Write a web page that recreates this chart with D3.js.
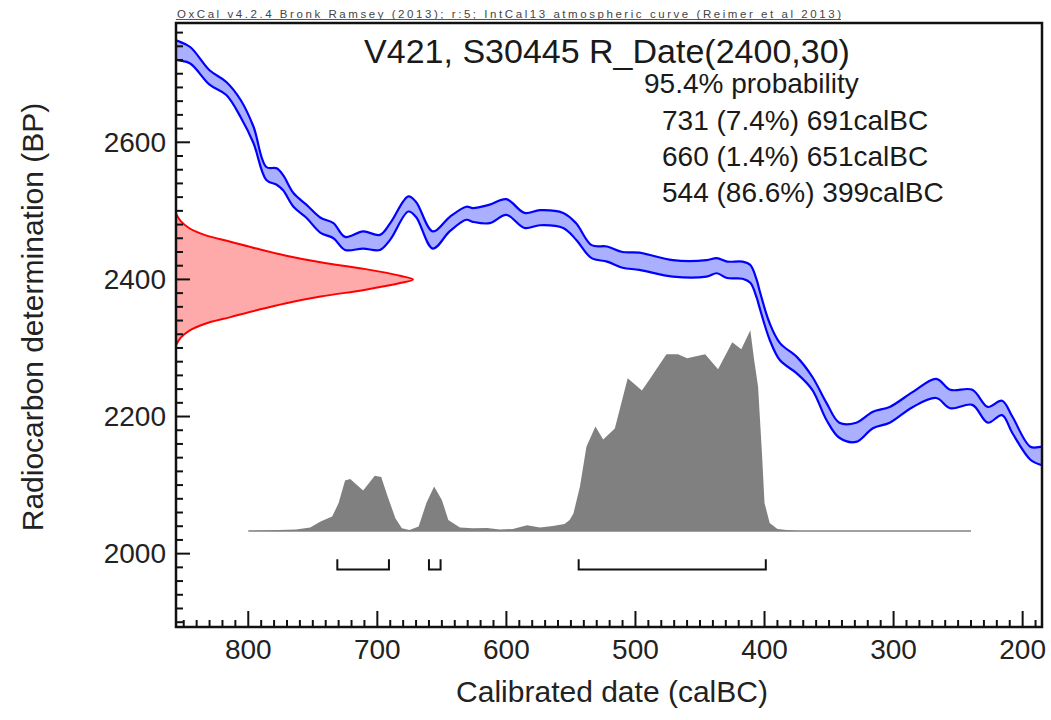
<!DOCTYPE html>
<html>
<head>
<meta charset="utf-8">
<title>V421, S30445 R_Date(2400,30)</title>
<script src="https://cdn.jsdelivr.net/npm/d3@7"></script>
<style>
  html, body { margin: 0; padding: 0; background: #fff; }
  svg { display: block; font-family: "Liberation Sans", Arial, Helvetica, sans-serif; }
  .tick-label { font-size: 28px; fill: #222; }
  .axis-title { font-size: 30px; fill: #222; }
</style>
</head>
<body>
<div id="chart"></div>
<script>
// IntCal13 band (calBC, upper BP, lower BP)
const curveCal = [860, 855, 845, 830, 817, 806, 796, 786, 778, 773, 765, 755, 744, 734, 725, 711, 698, 690, 676, 670,
  657, 644, 631, 626, 613, 600, 586, 574, 556, 546, 534, 522, 510, 497, 471, 445, 437, 429, 417, 411,
  406, 404, 396, 388, 375, 363, 352, 342, 329, 316, 303, 285, 267, 256, 239, 227, 216, 208, 194, 185, 180];
const curveHi = [2752, 2748, 2739, 2705, 2688, 2662, 2623, 2564, 2562, 2552, 2526, 2509, 2490, 2482, 2462, 2470, 2465, 2482, 2521, 2513,
  2470, 2491, 2506, 2504, 2509, 2517, 2497, 2501, 2497, 2482, 2450, 2448, 2440, 2439, 2428, 2428, 2431, 2426, 2426, 2421,
  2399, 2385, 2336, 2307, 2287, 2258, 2220, 2191, 2191, 2207, 2214, 2236, 2255, 2239, 2239, 2214, 2223, 2200, 2156, 2156, 2156];
const curveLo = [2724, 2720, 2715, 2684, 2669, 2637, 2599, 2545, 2538, 2530, 2506, 2490, 2468, 2460, 2443, 2445, 2443, 2458, 2499, 2491,
  2445, 2470, 2487, 2484, 2482, 2494, 2475, 2479, 2475, 2458, 2431, 2426, 2417, 2414, 2404, 2404, 2409, 2402, 2401, 2395,
  2373, 2360, 2312, 2282, 2263, 2239, 2195, 2169, 2163, 2183, 2191, 2214, 2227, 2212, 2217, 2191, 2202, 2176, 2137, 2129, 2127];

// R_Date(2400,30) likelihood on the radiocarbon axis (BP, relative density)
const likeBP = [2496, 2485, 2475, 2465, 2455, 2445, 2435, 2425, 2415, 2405, 2400, 2395, 2385, 2375, 2365, 2355, 2345, 2335, 2325, 2315, 2304];
const likeDens = [0, 0.02, 0.055, 0.12, 0.23, 0.34, 0.46, 0.61, 0.80, 0.95, 1.0, 0.95, 0.80, 0.61, 0.46, 0.34, 0.23, 0.12, 0.055, 0.02, 0];

// calibrated distribution (calBC, relative probability)
const postCal = [800, 763, 752, 744, 735, 730, 725, 721, 711, 702, 697, 692, 686, 681, 675, 668, 662, 656, 650, 645,
  636, 626, 615, 605, 595, 584, 574, 564, 555, 551, 548, 543, 538, 531, 525, 516, 506, 495, 489, 476,
  467, 460, 446, 436, 425, 418, 411, 408, 405, 402, 400, 396, 390, 383, 373, 240];
const postProb = [0, 0.008, 0.018, 0.047, 0.072, 0.139, 0.252, 0.259, 0.202, 0.275, 0.269, 0.172, 0.064, 0.014, 0.005, 0.022, 0.139, 0.222, 0.155, 0.055,
  0.018, 0.014, 0.015, 0.008, 0.01, 0.029, 0.018, 0.025, 0.035, 0.055, 0.089, 0.222, 0.42, 0.52, 0.455, 0.51, 0.76, 0.70, 0.755, 0.88,
  0.88, 0.86, 0.88, 0.805, 0.94, 0.905, 1.0, 0.85, 0.72, 0.39, 0.14, 0.04, 0.01, 0.005, 0, 0];

// 95.4% ranges
const rangeFrom = [731, 660, 544];
const rangeTo = [691, 651, 399];
const rangeText = ["731 (7.4%) 691calBC", "660 (1.4%) 651calBC", "544 (86.6%) 399calBC"];

const xTicks = [800, 700, 600, 500, 400, 300, 200];
const yTicks = [2000, 2200, 2400, 2600];

const headerText = "OxCal v4.2.4 Bronk Ramsey (2013); r:5; IntCal13 atmospheric curve (Reimer et al 2013)";
const titleText = "V421, S30445 R_Date(2400,30)";
const probText = "95.4% probability";

// ---------- layout ----------
const W = 1051, H = 720;
const P = { l: 176, r: 1042, t: 23, b: 627 };

const svg = d3.select("#chart").append("svg").attr("width", W).attr("height", H);

const x = d3.scaleLinear().domain([856, 185]).range([P.l, P.r]);
const y = d3.scaleLinear().domain([1893, 2774]).range([P.b, P.t]);
const xDens = d3.scaleLinear().domain([0, 1]).range([P.l, P.l + 237]);   // likelihood width
const yPost = d3.scaleLinear().domain([0, 1]).range([y(2033), y(2326)]); // posterior height

svg.append("clipPath").attr("id", "plotclip").append("rect")
  .attr("x", P.l).attr("y", P.t).attr("width", P.r - P.l).attr("height", P.b - P.t);
const g = svg.append("g").attr("clip-path", "url(#plotclip)");

// ---------- calibration curve ----------
const band = curveCal.map((c, i) => ({ c, hi: curveHi[i], lo: curveLo[i] }));
g.append("path").datum(band)
  .attr("d", d3.area().x(d => x(d.c)).y0(d => y(d.lo)).y1(d => y(d.hi)).curve(d3.curveCatmullRom))
  .attr("fill", "#aab0ff");
["hi", "lo"].forEach(k => {
  g.append("path").datum(band)
    .attr("d", d3.line().x(d => x(d.c)).y(d => y(d[k])).curve(d3.curveCatmullRom))
    .attr("fill", "none").attr("stroke", "#0000ff").attr("stroke-width", 2.2).attr("stroke-linejoin", "round");
});

// ---------- radiocarbon likelihood ----------
const like = likeBP.map((b, i) => ({ b, d: likeDens[i] }));
g.append("path").datum(like)
  .attr("d", d3.area().y(d => y(d.b)).x0(P.l).x1(d => xDens(d.d)).curve(d3.curveCatmullRom))
  .attr("fill", "#ffaaaa");
g.append("path").datum(like)
  .attr("d", d3.line().y(d => y(d.b)).x(d => xDens(d.d)).curve(d3.curveCatmullRom))
  .attr("fill", "none").attr("stroke", "#ff0000").attr("stroke-width", 2);

// ---------- calibrated distribution ----------
const post = postCal.map((c, i) => ({ c, p: postProb[i] }));
g.append("path").datum(post)
  .attr("d", d3.area().x(d => x(d.c)).y0(yPost(0)).y1(d => yPost(d.p)))
  .attr("fill", "#808080");
g.append("line")
  .attr("x1", x(d3.max(postCal))).attr("x2", x(d3.min(postCal)))
  .attr("y1", yPost(0)).attr("y2", yPost(0))
  .attr("stroke", "#808080").attr("stroke-width", 1.6);

// ---------- range brackets ----------
const bracketLo = y(1977), bracketHi = y(1992);
rangeFrom.forEach((f, i) => {
  const x0 = x(f), x1 = x(rangeTo[i]);
  g.append("path")
    .attr("d", `M${x0},${bracketHi}V${bracketLo}H${x1}V${bracketHi}`)
    .attr("fill", "none").attr("stroke", "#111").attr("stroke-width", 2);
});

// ---------- frame and ticks ----------
const ax = svg.append("g").attr("stroke", "#111").attr("stroke-width", 2);
d3.range(1900, 2780, 20).forEach(v => {
  const major = v % 200 === 0;
  ax.append("line").attr("x1", P.l).attr("x2", P.l + (major ? 14 : 7)).attr("y1", y(v)).attr("y2", y(v));
});
d3.range(190, 860, 10).forEach(v => {
  const major = v % 100 === 0;
  ax.append("line").attr("y1", P.b).attr("y2", P.b - (major ? 16 : 7)).attr("x1", x(v)).attr("x2", x(v));
});
svg.append("rect").attr("x", P.l).attr("y", P.t).attr("width", P.r - P.l).attr("height", P.b - P.t)
  .attr("fill", "none").attr("stroke", "#111").attr("stroke-width", 2.5);

svg.selectAll("text.ylab").data(yTicks).join("text")
  .attr("class", "tick-label ylab").attr("text-anchor", "end")
  .attr("x", 166).attr("y", d => y(d)).attr("dy", "0.35em").text(d => d);
svg.selectAll("text.xlab").data(xTicks).join("text")
  .attr("class", "tick-label xlab").attr("text-anchor", "middle")
  .attr("x", d => x(d)).attr("y", 659).text(d => d);

svg.append("text").attr("class", "axis-title").attr("text-anchor", "middle")
  .attr("x", 612).attr("y", 702).text("Calibrated date (calBC)");
svg.append("text").attr("class", "axis-title").attr("text-anchor", "middle")
  .attr("transform", "translate(43,317) rotate(-90)").text("Radiocarbon determination (BP)");

// ---------- header, title, ranges ----------
svg.append("text").attr("x", P.l + 1).attr("y", 17.5)
  .attr("font-size", 11.5).attr("fill", "#444")
  .attr("textLength", 664).attr("lengthAdjust", "spacing").text(headerText);
svg.append("line").attr("x1", P.l).attr("x2", 841).attr("y1", 19.5).attr("y2", 19.5)
  .attr("stroke", "#555").attr("stroke-width", 1);

svg.append("text").attr("text-anchor", "middle").attr("x", 607).attr("y", 63)
  .attr("font-size", 34).attr("fill", "#1a1a1a").text(titleText);
svg.append("text").attr("x", 644).attr("y", 93)
  .attr("font-size", 28).attr("fill", "#1a1a1a").text(probText);
svg.selectAll("text.range").data(rangeText).join("text")
  .attr("class", "range").attr("x", 662).attr("y", (d, i) => 130 + i * 36)
  .attr("font-size", 28).attr("fill", "#1a1a1a").text(d => d);
</script>
</body>
</html>
